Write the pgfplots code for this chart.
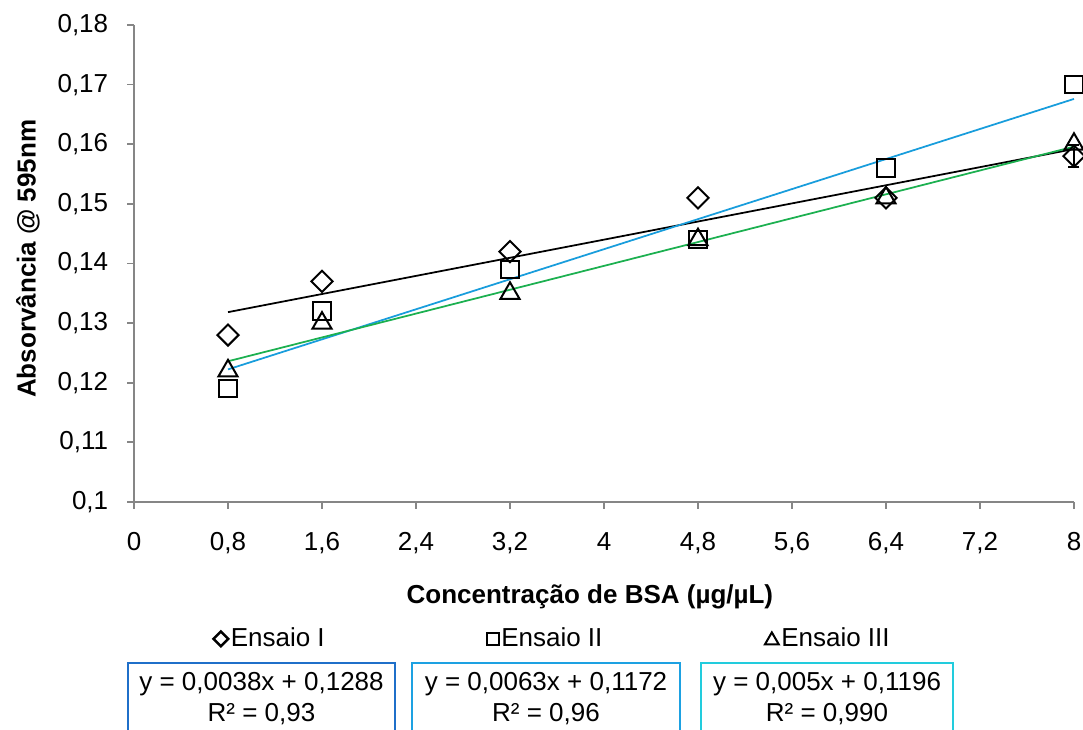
\documentclass[border=0pt]{standalone}
\usepackage{fontspec}
\setmainfont{Liberation Sans}
\usepackage{pgfplots}
\pgfplotsset{compat=1.18}
\definecolor{axgray}{RGB}{134,134,134}
\definecolor{lineblue}{RGB}{24,157,220}
\definecolor{linegreen}{RGB}{28,176,80}
\definecolor{boxone}{RGB}{31,111,201}
\definecolor{boxtwo}{RGB}{29,161,226}
\definecolor{boxthree}{RGB}{34,204,221}
\begin{document}
\begin{tikzpicture}[font=\fontsize{10.4}{12.4}\selectfont]
\begin{axis}[
  at={(53.6pt,90.8pt)}, anchor=south west,
  scale only axis, width=376pt, height=190.8pt,
  xmin=0, xmax=8, ymin=0.1, ymax=0.18,
  axis x line*=bottom, axis y line*=left,
  axis line style={axgray, line width=0.7pt},
  xtick={0,0.8,1.6,2.4,3.2,4,4.8,5.6,6.4,7.2,8},
  ytick={0.1,0.11,0.12,0.13,0.14,0.15,0.16,0.17,0.18},
  tick align=outside, major tick length=2.8pt,
  tick style={axgray, line width=0.7pt},
  /pgf/number format/assume math mode=true,
  /pgf/number format/use comma,
  yticklabel style={/pgf/number format/fixed, /pgf/number format/precision=2, anchor=east, xshift=-4pt},
  xticklabel style={/pgf/number format/fixed, /pgf/number format/precision=1, anchor=north, yshift=-6pt},
  clip=false,
  xlabel={\bfseries Concentração de BSA (µg/µL)},
  ylabel={\bfseries Absorvância @ 595nm},
  xlabel style={at={(axis description cs:0.485,-0.199)}, anchor=center},
  ylabel style={at={(axis description cs:-0.1128,0.51)}, anchor=center},
  legend style={at={(axis description cs:0.084,-0.287)}, anchor=west, draw=none, fill=none,
    inner sep=0pt, /tikz/every even column/.append style={column sep=64pt},
    nodes={inner xsep=1pt, inner ysep=1pt}},
  legend columns=3,
]
\addplot[only marks, black, mark=square, mark size=3pt, mark options={rotate=45, line width=0.8pt},
  legend image code/.code={\draw[black, mark=square, mark options={rotate=45}, mark size=2.1pt, line width=1pt] plot coordinates {(0pt,0pt)};}]
  coordinates {(0.8,0.128) (1.6,0.137) (3.2,0.142) (4.8,0.151) (6.4,0.151) (8,0.158)};
\addlegendentry{Ensaio I}
\addplot[only marks, black, mark=square, mark size=3.5pt, mark options={line width=0.8pt},
  legend image code/.code={\draw[black, mark=square, mark size=2.3pt, line width=0.5pt] plot coordinates {(0pt,0pt)};}]
  coordinates {(0.8,0.119) (1.6,0.132) (3.2,0.139) (4.8,0.144) (6.4,0.156) (8,0.170)};
\addlegendentry{Ensaio II}
\addplot[only marks, black, mark=triangle, mark size=4.4pt, mark options={line width=0.8pt},
  legend image code/.code={\draw[black, mark=triangle, mark size=3.2pt, line width=1pt] plot coordinates {(0pt,-0.6pt)};}]
  coordinates {(0.8,0.122) (1.6,0.130) (3.2,0.135) (4.8,0.144) (6.4,0.151) (8,0.160)};
\addlegendentry{Ensaio III}
% error bar on Ensaio I at x = 8
\addplot[forget plot, black, draw=none, mark=none, line width=0.8pt,
  error bars/.cd, y dir=both, y explicit,
  error bar style={black, line width=0.8pt},
  error mark options={rotate=90, mark size=2.2pt, line width=0.8pt, black}]
  coordinates {(8,0.158) +- (0,0.0018)};
% trend lines
\addplot[forget plot, black, line width=0.7pt, no marks] coordinates {(0.8,0.13184) (8,0.15920)};
\addplot[forget plot, lineblue, line width=0.7pt, no marks] coordinates {(0.8,0.12224) (8,0.16760)};
\addplot[forget plot, linegreen, line width=0.7pt, no marks] coordinates {(0.8,0.12360) (8,0.15960)};
\end{axis}
\draw[boxone, line width=0.9pt] (51.2pt,-5pt) rectangle (158pt,26.4pt);
\draw[boxtwo, line width=0.9pt] (164.8pt,-5pt) rectangle (272pt,26.4pt);
\draw[boxthree, line width=0.9pt] (280.4pt,-5pt) rectangle (381.2pt,26.4pt);
\node[align=center, inner sep=0pt] at (104.6pt,12.2pt) {y = 0,0038x + 0,1288\\R² = 0,93};
\node[align=center, inner sep=0pt] at (218.4pt,12.2pt) {y = 0,0063x + 0,1172\\R² = 0,96};
\node[align=center, inner sep=0pt] at (330.8pt,12.2pt) {y = 0,005x + 0,1196\\R² = 0,990};
\pgfresetboundingbox
\path[use as bounding box] (0pt,0pt) rectangle (433.2pt,291.6pt);
\end{tikzpicture}
\end{document}
